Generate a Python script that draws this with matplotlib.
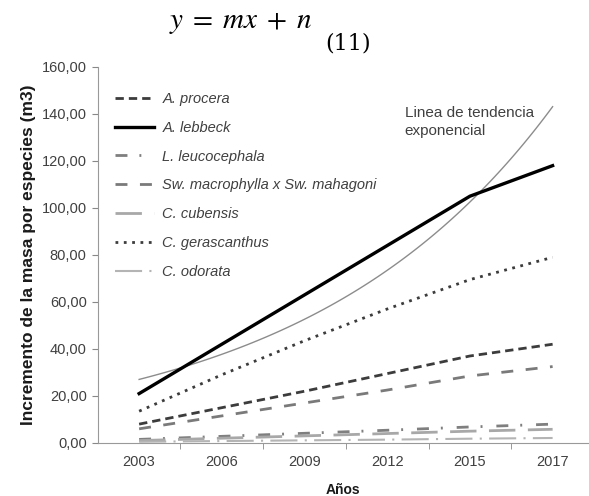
import numpy as np
import matplotlib.pyplot as plt

plt.rcParams['font.family'] = ['Liberation Sans', 'DejaVu Sans']
plt.rcParams['mathtext.fontset'] = 'stix'

# ==========================================
# DATOS
# ==========================================
anios = ['2003', '2006', '2009', '2012', '2015', '2017']

procera = [8.0, 15.0, 22.0, 29.5, 37.0, 42.0]
lebbeck = [21.0, 42.0, 63.0, 84.0, 105.0, 118.0]
leucocephala = [1.5, 2.8, 4.1, 5.4, 6.8, 8.0]
macrophylla = [6.0, 11.5, 17.0, 22.5, 28.5, 32.5]
cubensis = [1.0, 2.0, 3.0, 4.0, 5.0, 5.8]
gerascanthus = [13.5, 29.0, 43.5, 57.0, 69.5, 79.0]
odorata = [0.5, 0.8, 1.1, 1.4, 1.8, 2.1]

x = np.arange(len(anios))

# Línea de tendencia exponencial (ajuste de A. lebbeck, como en Excel)
b, a = np.polyfit(x + 1, np.log(lebbeck), 1)
xt = np.linspace(0, len(anios) - 1, 100)
tendencia = np.exp(a) * np.exp(b * (xt + 1))

# ==========================================
# GRÁFICA
# ==========================================
fig = plt.figure(figsize=(5.89, 4.96), dpi=100)
ax = fig.add_axes([0.166, 0.107, 0.834, 0.758])

ax.plot(xt, tendencia, color='#8c8c8c', lw=1.0, zorder=1)

ax.plot(x, procera, color='#3c3c3c', lw=2.0, dashes=(3.0, 1.8), label='A. procera')
ax.plot(x, lebbeck, color='black', lw=2.4, label='A. lebbeck')
ax.plot(x, leucocephala, color='#7f7f7f', lw=2.0, dashes=(4.3, 4.3, 0.7, 5.0), label='L. leucocephala')
ax.plot(x, macrophylla, color='#7a7a7a', lw=2.0, dashes=(4.3, 4.5), label='Sw. macrophylla x Sw. mahagoni')
ax.plot(x, cubensis, color='#a8a8a8', lw=2.0, dashes=(9.5, 4.5), label='C. cubensis')
ax.plot(x, gerascanthus, color='#3c3c3c', lw=2.0, dashes=(1.0, 2.0), label='C. gerascanthus')
ax.plot(x, odorata, color='#b4b4b4', lw=1.5, dashes=(13.0, 3.5, 1.0, 3.5), label='C. odorata')

ax.set_xlim(-0.5, 5.44)
ax.set_ylim(0, 160)
ax.set_xticks(x)
ax.set_xticklabels(anios)
ax.set_xticks(x[:-1] + 0.5, minor=True)
ax.set_yticks(np.arange(0, 161, 20))
ax.set_yticklabels([f'{v:.2f}'.replace('.', ',') for v in np.arange(0, 161, 20)])

ax.tick_params(axis='x', which='major', length=0, pad=9, labelsize=10.5, labelcolor='#404040')
ax.tick_params(axis='x', which='minor', length=4, color='#888888')
ax.tick_params(axis='y', length=4, color='#888888', labelsize=10.5, labelcolor='#404040', pad=4)

for s in ['top', 'right']:
    ax.spines[s].set_visible(False)
for s in ['left', 'bottom']:
    ax.spines[s].set_color('#999999')

ax.set_ylabel('Incremento de la masa por especies (m3)', fontsize=12.5,
              fontweight='bold', color='#1a1a1a', labelpad=4)
ax.set_xlabel('Años', fontsize=10, fontweight='bold', color='#1a1a1a', labelpad=10)

leg = ax.legend(loc='upper left', bbox_to_anchor=(0.035, 0.934), frameon=False,
                borderpad=0, borderaxespad=0, handlelength=2.7, handletextpad=0.55,
                labelspacing=1.02, prop={'style': 'italic', 'size': 10.5})
for t in leg.get_texts():
    t.set_color('#404040')

ax.text(0.625, 0.895, 'Linea de tendencia\nexponencial', transform=ax.transAxes,
        fontsize=11, color='#404040', va='top', ha='left', linespacing=1.3)

fig.text(0.409, 0.956, r'$y\;=\;mx\;+\;n$', fontsize=21, ha='center', va='center')
fig.text(0.552, 0.913, '(11)', fontsize=16, ha='left', va='center',
         family='DejaVu Serif')

fig.savefig('out.png', dpi=100)
